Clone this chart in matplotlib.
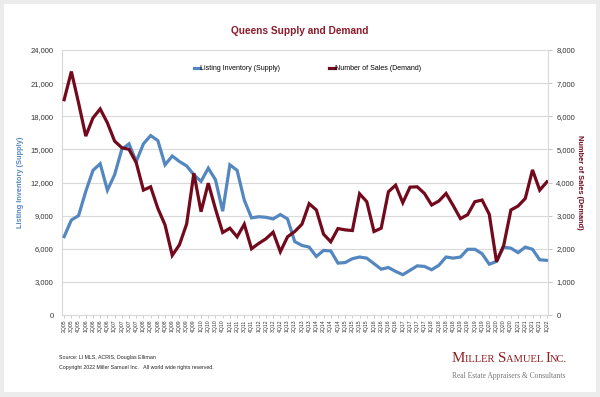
import matplotlib
matplotlib.use("Agg")
import matplotlib.pyplot as plt
from matplotlib.patches import Rectangle
from matplotlib.ticker import FuncFormatter

# ---------------- data ----------------
quarters = []
for yr in range(2005, 2023):
    for q in range(1, 5):
        if (yr == 2005 and q < 2) or (yr == 2022 and q > 1):
            continue
        quarters.append(f"{q}Q{str(yr)[2:]}")

inventory = [7100, 8600, 9000, 11200, 13100, 13700, 11300, 12700, 15000, 15500,
             13900, 15500, 16250, 15800, 13600, 14400, 13900, 13500, 12700, 12100,
             13300, 12250, 9400, 13600, 13100, 10400, 8800, 8900, 8850, 8700,
             9100, 8700, 6650, 6300, 6150, 5300, 5850, 5800, 4700, 4750,
             5100, 5250, 5150, 4650, 4150, 4300, 3950, 3650, 4050, 4450,
             4400, 4100, 4500, 5250, 5150, 5250, 5950, 5950, 5550, 4600,
             4850, 6150, 6050, 5650, 6150, 5950, 5000, 4950]

sales = [6500, 7350, 6400, 5400, 5950, 6220, 5800, 5250, 5050, 5000,
         4600, 3770, 3870, 3220, 2720, 1800, 2120, 2750, 4280, 3120,
         3980, 3200, 2490, 2620, 2360, 2740, 2000, 2160, 2300, 2500,
         1910, 2360, 2520, 2740, 3360, 3170, 2440, 2210, 2610, 2570,
         2550, 3660, 3420, 2520, 2620, 3720, 3920, 3390, 3860, 3870,
         3670, 3320, 3440, 3670, 3300, 2910, 3030, 3420, 3470, 3040,
         1610, 2100, 3170, 3290, 3520, 4380, 3770, 4020]

left_ticks = list(range(0, 24001, 3000))
right_ticks = list(range(0, 8001, 1000))

title = "Queens Supply and Demand"
inv_label = "Listing Inventory (Supply)"
sales_label = "Number of Sales (Demand)"

BLUE = "#5487C0"
RED = "#72091C"
TITLE_RED = "#8A1C2C"
GRID = "#D9D9D9"
FONT = "Liberation Sans"

# ---------------- figure ----------------
W, H = 600, 397
fig = plt.figure(figsize=(6, 3.97), dpi=100, facecolor="#ECECEC")
fig.patches.append(Rectangle((4 / W, 5 / H), 592 / W, 388 / H, transform=fig.transFigure,
                             facecolor="white", edgecolor="none", zorder=-10))

L, R, T, B = 62, 548, 50, 315
ax = fig.add_axes([L / W, 1 - B / H, (R - L) / W, (B - T) / H])
ax2 = ax.twinx()

x = list(range(len(quarters)))
ax.plot(x, inventory, color=BLUE, lw=2.3, solid_joinstyle="miter", label=inv_label, zorder=3)
ax2.plot(x, sales, color=RED, lw=2.3, solid_joinstyle="miter", label=sales_label, zorder=3)

ax.set_xlim(-0.3, len(quarters) - 0.85)
ax.set_ylim(0, 24000)
ax2.set_ylim(0, 8000)
ax.set_yticks(left_ticks)
ax2.set_yticks(right_ticks)
fmt = FuncFormatter(lambda v, p: f"{int(v):,}")
ax.yaxis.set_major_formatter(fmt)
ax2.yaxis.set_major_formatter(fmt)
ax.set_xticks(x)
ax.set_xticklabels(quarters, rotation=90, fontsize=3.7, family=FONT, color="#333333")

ax.grid(axis="y", color=GRID, lw=0.8)
ax.set_axisbelow(True)
for a in (ax, ax2):
    for s in a.spines.values():
        s.set_visible(False)
ax.spines["left"].set_visible(True)
ax.spines["left"].set_color(GRID)
ax2.spines["right"].set_visible(True)
ax2.spines["right"].set_color(GRID)
ax.spines["bottom"].set_visible(True)
ax.spines["bottom"].set_color(GRID)

ax.tick_params(axis="y", length=0, pad=6, labelsize=5.5, labelcolor="#333333")
ax2.tick_params(axis="y", length=3, color="#BBBBBB", width=0.6, pad=3, labelsize=5.5, labelcolor="#333333")
ax.tick_params(axis="x", length=2, color="#BBBBBB", width=0.5, pad=1.5)
for lab in ax.get_yticklabels() + ax2.get_yticklabels():
    lab.set_family(FONT)

ax.set_ylabel(inv_label, color=BLUE, fontsize=5.3, fontweight="bold", family=FONT, labelpad=5)
ax2.set_ylabel(sales_label, color=RED, fontsize=5.3, fontweight="bold", family=FONT,
               rotation=270, labelpad=6)

h1, l1 = ax.get_legend_handles_labels()
h2, l2 = ax2.get_legend_handles_labels()
leg = ax2.legend(h1 + h2, l1 + l2, ncol=2, loc="center", bbox_to_anchor=(0.505, 0.93),
                 frameon=False, handlelength=0.9, handletextpad=0.0, columnspacing=7.0,
                 prop={"family": FONT, "size": 5})
for lh in leg.get_lines():
    lh.set_linewidth(2.3)

fig.text(0.5, 1 - 31 / H, title, ha="center", va="center", color=TITLE_RED,
         fontsize=7.3, fontweight="bold", family=FONT)

fig.text(59 / W, 1 - 358 / H, "Source: LI MLS, ACRIS, Douglas Elliman", fontsize=3.8,
         family=FONT, color="#222222", va="center")
fig.text(59 / W, 1 - 367 / H, "Copyright 2022 Miller Samuel Inc.   All world wide rights reserved.",
         fontsize=3.8, family=FONT, color="#222222", va="center")

# logo with small caps
fig.canvas.draw()
renderer = fig.canvas.get_renderer()
pieces = [("M", 10.8), ("ILLER ", 7.6), ("S", 10.8), ("AMUEL ", 7.6), ("I", 10.8), ("NC.", 7.6)]
xpos = 452.0
for txt, fs in pieces:
    t = fig.text(xpos / W, 1 - 362 / H, txt, fontsize=fs, family="Liberation Serif",
                 color="#8B1E22", va="baseline", ha="left")
    bb = t.get_window_extent(renderer=renderer)
    xpos += bb.width
fig.text(452 / W, 1 - 378 / H, "Real Estate Appraisers & Consultants", fontsize=5.45,
         family="Liberation Serif", color="#777777", va="baseline", ha="left")

fig.savefig("out.png", dpi=100, facecolor=fig.get_facecolor())
